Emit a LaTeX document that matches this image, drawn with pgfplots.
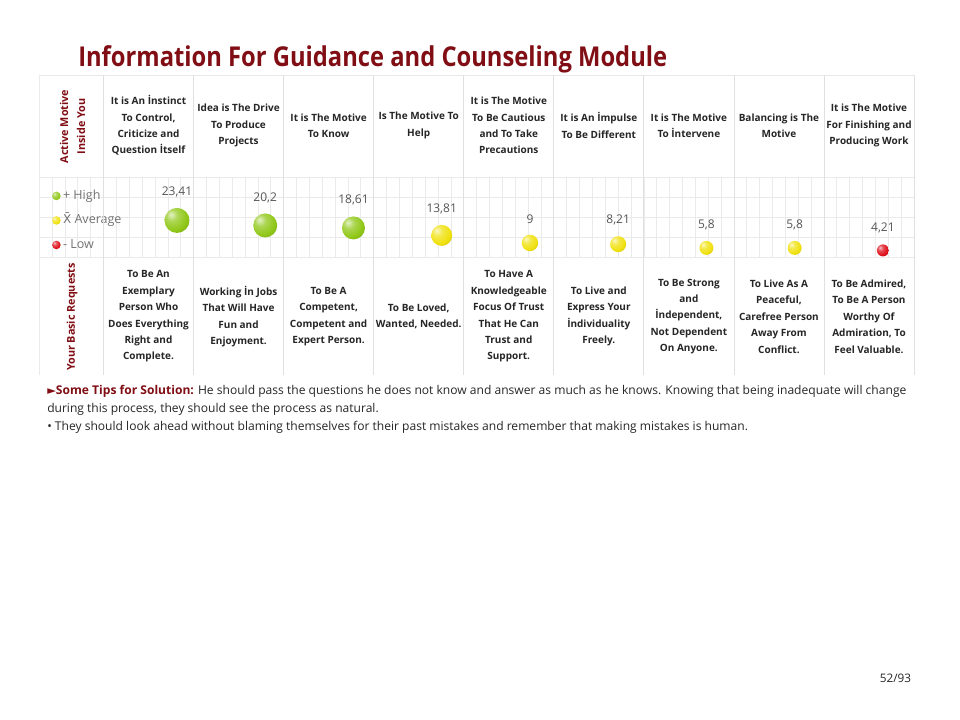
\documentclass[border=0pt]{standalone}
\usepackage{fontspec}
\setmainfont{Open Sans}
\newfontfamily\djv{DejaVu Sans}
\usepackage{pgfplots}
\pgfplotsset{compat=1.18}

\definecolor{dred}{RGB}{128,14,20}
\definecolor{ctextc}{RGB}{38,38,38}
\definecolor{labc}{RGB}{85,85,85}
\definecolor{legc}{RGB}{115,115,115}
\definecolor{gridc}{RGB}{234,234,234}
\definecolor{colc}{RGB}{224,224,224}
\definecolor{hgreen}{RGB}{145,200,25}
\definecolor{hyellow}{RGB}{240,225,15}
\definecolor{hred}{RGB}{222,15,25}

% sphere shadings and marks
\pgfdeclareradialshading{gsph}{\pgfpoint{-12bp}{12bp}}{color(0bp)=(hgreen!25!white); color(12bp)=(hgreen!75!white); color(28bp)=(hgreen); color(48bp)=(hgreen!80!black); color(62bp)=(hgreen!50!black); color(100bp)=(hgreen!50!black)}
\pgfdeclareradialshading{ysph}{\pgfpoint{-12bp}{12bp}}{color(0bp)=(hyellow!25!white); color(12bp)=(hyellow!75!white); color(28bp)=(hyellow); color(48bp)=(hyellow!80!black); color(62bp)=(hyellow!50!black); color(100bp)=(hyellow!50!black)}
\pgfdeclareradialshading{rsph}{\pgfpoint{-12bp}{12bp}}{color(0bp)=(hred!25!white); color(12bp)=(hred!75!white); color(28bp)=(hred); color(48bp)=(hred!80!black); color(62bp)=(hred!50!black); color(100bp)=(hred!50!black)}
\pgfdeclareplotmark{gsph}{\pgfpathcircle{\pgfpointorigin}{\pgfplotmarksize}\pgfshadepath{gsph}{0}\pgfusepath{}}
\pgfdeclareplotmark{ysph}{\pgfpathcircle{\pgfpointorigin}{\pgfplotmarksize}\pgfshadepath{ysph}{0}\pgfusepath{}}
\pgfdeclareplotmark{rsph}{\pgfpathcircle{\pgfpointorigin}{\pgfplotmarksize}\pgfshadepath{rsph}{0}\pgfusepath{}}

% bubble: #1 = sphere mark, #2 = radius in px
\pgfplotsset{bub/.style 2 args={only marks, mark=#1,
  mark size={0.75pt*#2},
  nodes near coords={\pgfmathprintnumber[use comma,assume math mode=true]{\pgfplotspointmeta}},
  point meta=y,
  every node near coord/.append style={font=\fontsize{9}{10}\selectfont, text=labc, anchor=center, yshift={0.75pt*#2+12pt}, inner sep=0pt},
  legend image code/.code={\begin{scope}[shift={(3pt,0pt)}]\pgfpathcircle{\pgfpointorigin}{3.2pt}\pgfshadepath{#1}{0}\pgfusepath{}\end{scope}\path[draw=none] (0pt,0pt) -- (8pt,0pt);}
}}

\tikzset{ctext/.style={font=\fontsize{7.5}{12.3}\selectfont\bfseries, text=ctextc, align=center, anchor=center, inner sep=0pt}}

\begin{document}
\begin{tikzpicture}[x=0.75pt,y=0.75pt]
\fill[white] (0,0) rectangle (960,720);

\begin{axis}[
  at={(29.4pt,347.25pt)}, anchor=south west, scale only axis,
  width=656.1pt, height=60pt,
  xmin=-1.5615, xmax=8.3522, ymin=0, ymax=51.2,
  axis line style={draw=gridc},
  xtick={-1.5615,-1.41571,...,8.36},
  xticklabels={},
  xmajorgrids,
  ytick={12.8,25.6,38.4},
  yticklabels={},
  ymajorgrids,
  major tick length=0pt, minor tick length=0pt,
  grid style={draw=gridc, line width=0.5pt},
  clip=false,
  legend style={at={(0,1)}, anchor=north west, draw=none, fill=none,
    xshift=9.5pt, yshift=-9.5pt,
    font=\fontsize{9.4}{10}\selectfont, text=legc,
    row sep=9.4pt, inner sep=0pt, column sep=0pt,
    nodes={inner sep=0pt, text height=7pt, text depth=2pt}},
  legend cell align=left,
]
% High (green)
\addplot[bub={gsph}{12.5}] coordinates {(0,23.41)};
\addlegendentry{+ High}
\addplot[bub={gsph}{12}, forget plot] coordinates {(1,20.2)};
\addplot[bub={gsph}{11.5}, forget plot] coordinates {(2,18.61)};
% Average (yellow)
\addplot[bub={ysph}{10.5}] coordinates {(3,13.81)};
\addlegendentry{{\djv\fontsize{9}{10}\selectfont X̄} Average}
\addplot[bub={ysph}{8.2}, forget plot] coordinates {(4,9)};
\addplot[bub={ysph}{8}, forget plot] coordinates {(5,8.21)};
\addplot[bub={ysph}{7}, forget plot] coordinates {(6,5.8)};
\addplot[bub={ysph}{7}, forget plot] coordinates {(7,5.8)};
% Low (red)
\addplot[bub={rsph}{6}] coordinates {(8,4.21)};
\addlegendentry{- Low}
\end{axis}

\begin{scope}[yshift=540pt, y=-0.75pt]
% table lines
\draw[gridc, line width=0.5pt] (40,75) -- (915,75);
\foreach \j in {0,...,9} {
  \draw[colc, line width=0.6pt] ({103.5+90.06*\j},75) -- ({103.5+90.06*\j},375);
}
\draw[gridc, line width=0.5pt] (39.2,75) -- (39.2,375);

% title
\node[anchor=base west, inner sep=0pt, text=dred] at (78,67)
  {\resizebox{441.75pt}{\height}{\fontsize{20.5}{24}\selectfont\bfseries Information For Guidance and Counseling Module}};

% row headers
\node[rotate=90, align=center, text=dred, inner sep=0pt,
  font=\fontsize{8.1}{12.8}\selectfont\bfseries] at (72.5,126.5) {Active Motive\\Inside You};
\node[rotate=90, text=dred, inner sep=0pt,
  font=\fontsize{8.1}{12.8}\selectfont\bfseries] at (72,317) {Your Basic Requests};

% top row
\node[ctext] at (148.5,125.5) {It is An İnstinct\\To Control,\\Criticize and\\Question İtself};
\node[ctext] at (238.56,125.5) {Idea is The Drive\\To Produce\\Projects};
\node[ctext] at (328.62,125.5) {It is The Motive\\To Know};
\node[ctext] at (418.68,125.5) {Is The Motive To\\Help};
\node[ctext] at (508.74,125.5) {It is The Motive\\To Be Cautious\\and To Take\\Precautions};
\node[ctext] at (598.8,125.5) {It is An İmpulse\\To Be Different};
\node[ctext] at (688.86,125.5) {It is The Motive\\To İntervene};
\node[ctext] at (778.92,125.5) {Balancing is The\\Motive};
\node[ctext] at (868.98,125.5) {It is The Motive\\For Finishing and\\Producing Work};

% bottom row
\node[ctext] at (148.5,316.5) {To Be An\\Exemplary\\Person Who\\Does Everything\\Right and\\Complete.};
\node[ctext] at (238.56,316.5) {Working İn Jobs\\That Will Have\\Fun and\\Enjoyment.};
\node[ctext] at (328.62,316.5) {To Be A\\Competent,\\Competent and\\Expert Person.};
\node[ctext] at (418.68,316.5) {To Be Loved,\\Wanted, Needed.};
\node[ctext] at (508.74,316.5) {To Have A\\Knowledgeable\\Focus Of Trust\\That He Can\\Trust and\\Support.};
\node[ctext] at (598.8,316.5) {To Live and\\Express Your\\İndividuality\\Freely.};
\node[ctext] at (688.86,316.5) {To Be Strong\\and\\İndependent,\\Not Dependent\\On Anyone.};
\node[ctext] at (778.92,316.5) {To Live As A\\Peaceful,\\Carefree Person\\Away From\\Conflict.};
\node[ctext] at (868.98,316.5) {To Be Admired,\\To Be A Person\\Worthy Of\\Admiration, To\\Feel Valuable.};

% tips
\begin{scope}[every node/.style={anchor=base west, inner sep=0pt, text=ctextc, font=\fontsize{9.05}{10}\selectfont}]
\node at (47,395) {{\djv\fontsize{8.5}{9}\selectfont\color{dred}►}{\bfseries\color{dred}Some Tips for Solution:} He should pass the questions he does not know and answer as much as he knows. Knowing that being inadequate will change};
\node at (47,413) {during this process, they should see the process as natural.};
\node at (47,431) {• They should look ahead without blaming themselves for their past mistakes and remember that making mistakes is human.};
\end{scope}

% page number
\node[anchor=base, inner sep=0pt, text=ctextc, font=\fontsize{8.8}{10}\selectfont] at (895.5,683) {52/93};
\end{scope}
\end{tikzpicture}
\end{document}
